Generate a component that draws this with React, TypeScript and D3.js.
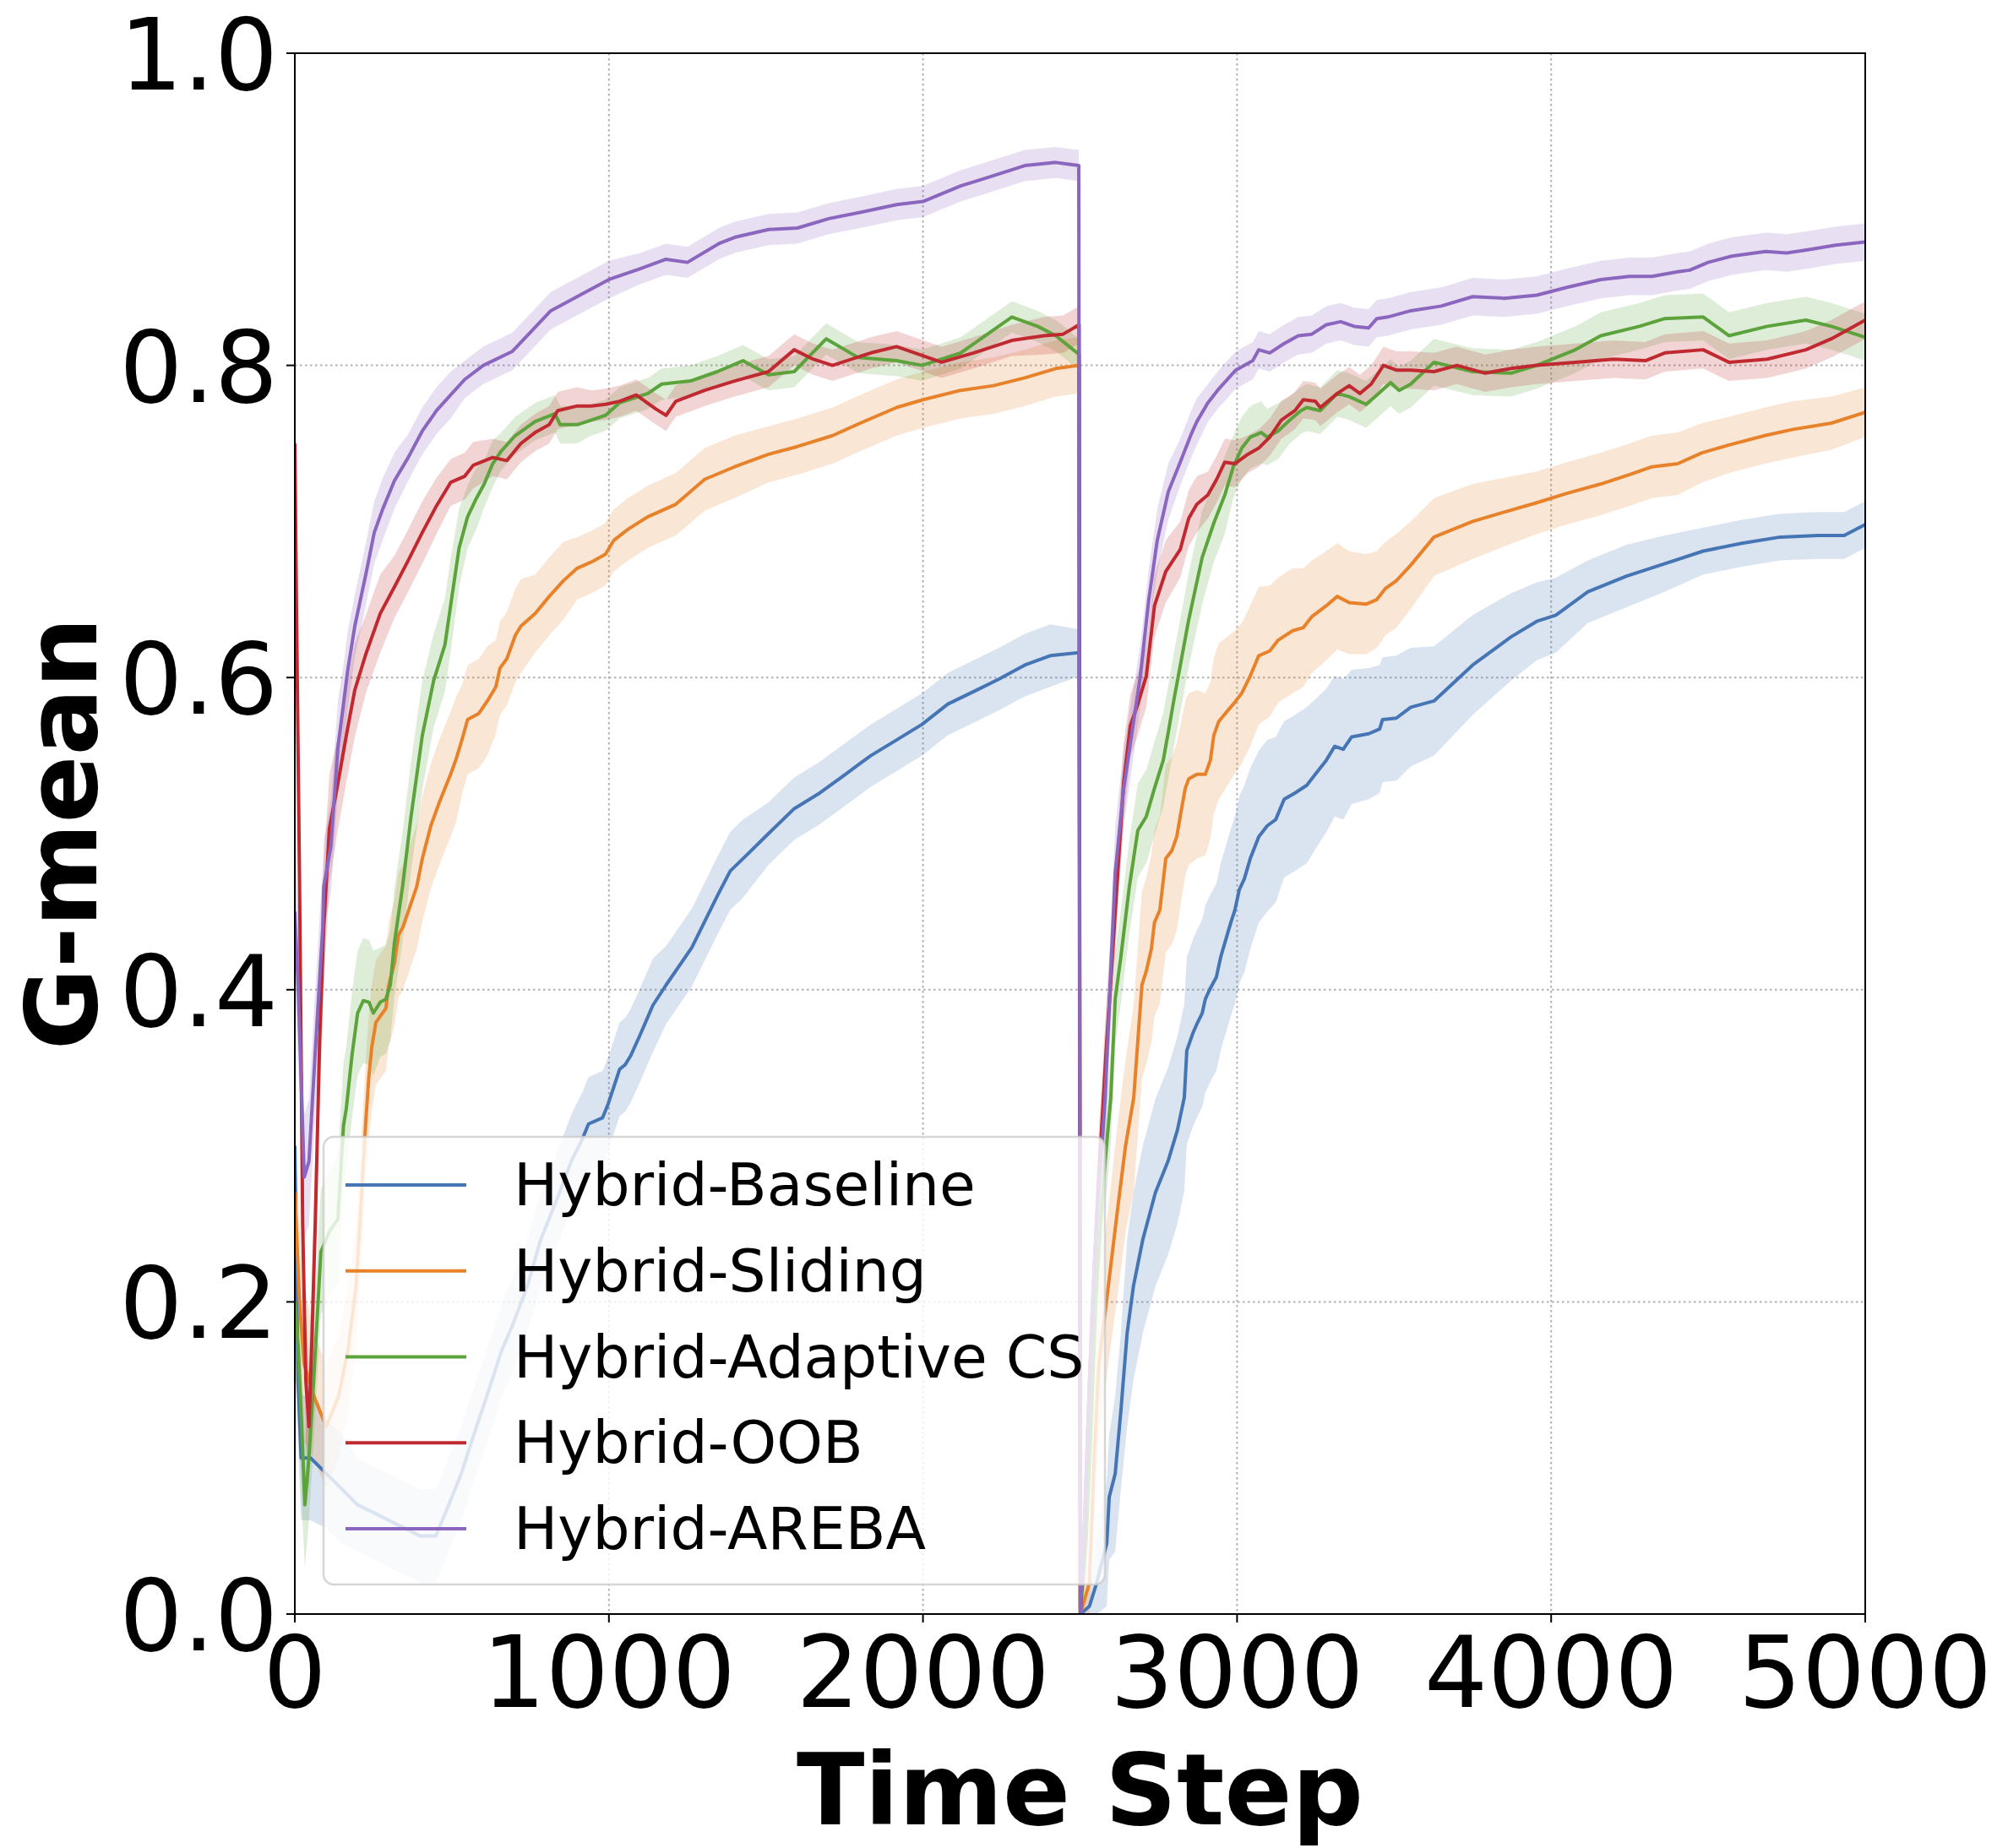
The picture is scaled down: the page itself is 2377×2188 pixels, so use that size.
import React from "react";
import * as d3 from "d3";

type Pt = [number, number, number];

const seriesNames = ["Hybrid-Baseline", "Hybrid-Sliding", "Hybrid-Adaptive CS", "Hybrid-OOB", "Hybrid-AREBA"];
const seriesColors = ["#4575b4", "#e8822a", "#5ca33c", "#c0292f", "#8b66be"];
const xTicks = [0, 1000, 2000, 3000, 4000, 5000];
const yTicks = [0, 0.2, 0.4, 0.6, 0.8, 1.0];
const yTickLabels = ["0.0", "0.2", "0.4", "0.6", "0.8", "1.0"];

// [time step, mean, half band]
const baseline: Pt[] = [
  [0,0.3,0.04],[10,0.15,0.04],[20,0.1,0.04],[50,0.1,0.04],[100,0.09,0.035],[150,0.08,0.035],[200,0.07,0.03],[250,0.065,0.03],[300,0.06,0.03],[350,0.055,0.03],[400,0.05,0.03],[449,0.05,0.03],[490,0.07,0.03],[530,0.09,0.03],[570,0.115,0.03],[612,0.14,0.03],[657,0.168,0.03],[693,0.185,0.03],[740,0.21,0.03],[783,0.24,0.03],[837,0.267,0.03],[880,0.29,0.03],[917,0.305,0.03],[935,0.314,0.03],[980,0.318,0.03],[998,0.327,0.03],[1016,0.338,0.03],[1034,0.349,0.03],[1052,0.352,0.03],[1070,0.358,0.03],[1097,0.37,0.03],[1140,0.39,0.03],[1182,0.403,0.025],[1264,0.427,0.025],[1345,0.46,0.025],[1386,0.476,0.025],[1427,0.484,0.025],[1508,0.5,0.02],[1590,0.516,0.02],[1671,0.526,0.02],[1753,0.538,0.02],[1834,0.55,0.02],[1916,0.56,0.02],[1997,0.57,0.02],[2079,0.583,0.02],[2161,0.591,0.02],[2242,0.599,0.02],[2324,0.608,0.02],[2405,0.614,0.02],[2497,0.616,0.015],
  [2501,0,0],[2530,0.005,0.01],[2553,0.02,0.03],[2585,0.045,0.04],[2593,0.075,0.04],[2612,0.09,0.05],[2630,0.13,0.05],[2650,0.18,0.06],[2670,0.21,0.06],[2700,0.24,0.06],[2740,0.27,0.06],[2780,0.29,0.06],[2810,0.31,0.06],[2832,0.331,0.06],[2840,0.361,0.06],[2859,0.372,0.06],[2872,0.378,0.06],[2889,0.385,0.06],[2899,0.394,0.06],[2915,0.401,0.06],[2934,0.408,0.06],[2948,0.421,0.06],[2961,0.43,0.06],[2980,0.443,0.06],[2993,0.451,0.06],[3007,0.464,0.06],[3023,0.471,0.06],[3042,0.484,0.058],[3069,0.498,0.055],[3096,0.505,0.055],[3123,0.509,0.053],[3150,0.522,0.05],[3184,0.526,0.05],[3222,0.531,0.05],[3249,0.538,0.048],[3284,0.547,0.046],[3311,0.556,0.045],[3338,0.554,0.045],[3365,0.562,0.043],[3419,0.564,0.042],[3454,0.567,0.041],[3463,0.573,0.04],[3507,0.574,0.04],[3553,0.581,0.038],[3627,0.585,0.035],[3750,0.608,0.032],[3872,0.626,0.028],[3954,0.636,0.025],[4015,0.64,0.024],[4117,0.655,0.02],[4240,0.665,0.02],[4362,0.673,0.018],[4484,0.681,0.015],[4607,0.686,0.015],[4729,0.69,0.015],[4851,0.691,0.015],[4933,0.691,0.015],[5000,0.698,0.015],
];

const sliding: Pt[] = [
  [0,0.27,0.04],[15,0.2,0.05],[30,0.16,0.05],[60,0.14,0.04],[100,0.12,0.04],[140,0.14,0.04],[170,0.17,0.04],[195,0.21,0.04],[210,0.26,0.04],[226,0.316,0.04],[236,0.345,0.04],[245,0.363,0.04],[258,0.379,0.04],[272,0.383,0.04],[290,0.388,0.04],[299,0.403,0.04],[317,0.417,0.04],[330,0.435,0.04],[344,0.44,0.04],[388,0.466,0.04],[406,0.484,0.04],[433,0.505,0.04],[460,0.52,0.04],[496,0.538,0.04],[514,0.548,0.04],[532,0.56,0.035],[550,0.573,0.035],[586,0.577,0.035],[613,0.585,0.035],[640,0.594,0.03],[653,0.606,0.03],[675,0.612,0.03],[702,0.627,0.03],[720,0.633,0.03],[765,0.641,0.025],[810,0.652,0.025],[855,0.662,0.025],[899,0.67,0.02],[944,0.674,0.02],[989,0.679,0.02],[1016,0.688,0.02],[1061,0.695,0.02],[1124,0.703,0.02],[1213,0.711,0.02],[1305,0.727,0.02],[1400,0.735,0.02],[1508,0.743,0.018],[1600,0.748,0.018],[1712,0.755,0.018],[1800,0.763,0.018],[1916,0.773,0.018],[2000,0.778,0.018],[2120,0.784,0.018],[2224,0.787,0.018],[2324,0.792,0.018],[2423,0.798,0.018],[2497,0.8,0.018],
  [2501,0,0],[2530,0.02,0.02],[2545,0.1,0.04],[2560,0.16,0.05],[2590,0.21,0.05],[2620,0.26,0.055],[2645,0.3,0.055],[2671,0.331,0.06],[2684,0.367,0.06],[2697,0.403,0.06],[2711,0.412,0.06],[2727,0.426,0.06],[2737,0.443,0.06],[2754,0.451,0.06],[2765,0.47,0.06],[2773,0.484,0.06],[2792,0.489,0.06],[2808,0.498,0.06],[2819,0.511,0.058],[2835,0.529,0.056],[2846,0.535,0.055],[2872,0.538,0.054],[2899,0.538,0.052],[2915,0.547,0.05],[2926,0.563,0.05],[2942,0.572,0.05],[2967,0.578,0.048],[2988,0.583,0.046],[3015,0.59,0.045],[3042,0.601,0.045],[3069,0.614,0.044],[3104,0.617,0.042],[3131,0.624,0.04],[3177,0.63,0.04],[3211,0.632,0.038],[3238,0.639,0.036],[3284,0.646,0.035],[3319,0.652,0.034],[3357,0.648,0.033],[3411,0.647,0.032],[3445,0.65,0.031],[3472,0.657,0.03],[3507,0.662,0.03],[3553,0.672,0.028],[3627,0.69,0.025],[3750,0.7,0.024],[3850,0.706,0.022],[3954,0.712,0.02],[4050,0.718,0.02],[4158,0.724,0.02],[4250,0.73,0.02],[4321,0.735,0.02],[4403,0.737,0.02],[4480,0.744,0.019],[4566,0.749,0.018],[4680,0.755,0.018],[4770,0.759,0.018],[4892,0.763,0.017],[5000,0.77,0.016],
];

const adaptiveCS: Pt[] = [
  [0,0.2,0.04],[11,0.17,0.05],[22,0.12,0.05],[32,0.07,0.04],[45,0.1,0.04],[60,0.15,0.04],[83,0.232,0.04],[110,0.245,0.04],[137,0.253,0.04],[155,0.313,0.04],[164,0.324,0.04],[182,0.358,0.04],[200,0.385,0.04],[218,0.393,0.04],[236,0.392,0.04],[250,0.385,0.04],[272,0.392,0.035],[290,0.394,0.035],[304,0.403,0.035],[317,0.43,0.035],[343,0.466,0.035],[370,0.511,0.035],[406,0.563,0.035],[442,0.598,0.03],[478,0.621,0.03],[496,0.646,0.03],[523,0.683,0.025],[550,0.703,0.02],[576,0.714,0.02],[603,0.724,0.015],[630,0.737,0.015],[657,0.745,0.012],[702,0.755,0.012],[765,0.764,0.012],[828,0.769,0.012],[845,0.762,0.012],[899,0.762,0.012],[944,0.765,0.01],[989,0.768,0.01],[1034,0.776,0.01],[1124,0.782,0.01],[1168,0.788,0.01],[1260,0.79,0.01],[1345,0.796,0.01],[1427,0.803,0.01],[1508,0.794,0.01],[1590,0.796,0.01],[1692,0.817,0.01],[1794,0.805,0.01],[1916,0.803,0.01],[1997,0.8,0.01],[2120,0.808,0.01],[2283,0.831,0.01],[2365,0.825,0.01],[2423,0.819,0.01],[2497,0.807,0.01],
  [2501,0,0],[2520,0.05,0.03],[2535,0.12,0.03],[2550,0.2,0.03],[2565,0.25,0.03],[2580,0.29,0.03],[2598,0.331,0.03],[2612,0.394,0.03],[2630,0.421,0.03],[2657,0.466,0.03],[2684,0.502,0.03],[2711,0.511,0.03],[2737,0.529,0.03],[2765,0.547,0.03],[2781,0.565,0.03],[2800,0.587,0.03],[2813,0.601,0.03],[2846,0.637,0.03],[2889,0.677,0.03],[2926,0.699,0.025],[2961,0.717,0.025],[2988,0.735,0.02],[3015,0.747,0.02],[3042,0.754,0.02],[3077,0.757,0.02],[3096,0.754,0.018],[3131,0.758,0.018],[3168,0.765,0.015],[3203,0.771,0.015],[3222,0.773,0.015],[3265,0.771,0.015],[3319,0.782,0.015],[3357,0.78,0.015],[3411,0.775,0.015],[3445,0.781,0.015],[3489,0.789,0.015],[3516,0.784,0.015],[3553,0.788,0.015],[3627,0.802,0.015],[3750,0.796,0.015],[3872,0.795,0.015],[3954,0.8,0.015],[4077,0.81,0.015],[4158,0.819,0.015],[4281,0.825,0.015],[4362,0.83,0.015],[4484,0.831,0.015],[4566,0.819,0.015],[4688,0.825,0.015],[4811,0.829,0.015],[4892,0.825,0.015],[5000,0.818,0.015],
];

const oob: Pt[] = [
  [0,0.75,0.03],[5,0.65,0.05],[15,0.47,0.05],[25,0.25,0.05],[35,0.15,0.04],[45,0.12,0.04],[55,0.18,0.04],[65,0.25,0.04],[79,0.367,0.04],[92,0.44,0.04],[110,0.503,0.035],[137,0.532,0.03],[164,0.563,0.03],[191,0.592,0.03],[226,0.615,0.025],[272,0.641,0.025],[317,0.658,0.02],[361,0.675,0.02],[406,0.693,0.02],[451,0.71,0.018],[496,0.725,0.015],[541,0.729,0.015],[568,0.736,0.015],[630,0.741,0.012],[675,0.739,0.012],[720,0.75,0.012],[765,0.757,0.012],[810,0.762,0.012],[837,0.771,0.012],[899,0.774,0.012],[944,0.774,0.01],[989,0.775,0.01],[1034,0.777,0.01],[1087,0.781,0.01],[1150,0.772,0.01],[1182,0.768,0.01],[1213,0.777,0.01],[1305,0.784,0.01],[1400,0.79,0.01],[1508,0.796,0.01],[1590,0.81,0.01],[1650,0.804,0.01],[1712,0.8,0.01],[1834,0.808,0.01],[1916,0.812,0.01],[2059,0.802,0.01],[2161,0.808,0.01],[2283,0.816,0.01],[2385,0.819,0.012],[2446,0.82,0.012],[2497,0.826,0.012],
  [2501,0,0],[2515,0.06,0.03],[2530,0.15,0.03],[2545,0.22,0.03],[2560,0.28,0.03],[2585,0.367,0.03],[2603,0.421,0.03],[2620,0.475,0.025],[2639,0.533,0.025],[2660,0.569,0.02],[2684,0.583,0.02],[2711,0.601,0.02],[2737,0.646,0.02],[2773,0.668,0.02],[2819,0.682,0.018],[2846,0.702,0.018],[2872,0.711,0.018],[2907,0.717,0.015],[2935,0.727,0.015],[2961,0.738,0.015],[2993,0.737,0.015],[3034,0.743,0.012],[3069,0.747,0.012],[3104,0.754,0.012],[3141,0.765,0.012],[3184,0.771,0.012],[3211,0.778,0.012],[3249,0.777,0.012],[3265,0.773,0.012],[3319,0.782,0.012],[3357,0.787,0.012],[3391,0.782,0.012],[3427,0.788,0.012],[3466,0.8,0.012],[3507,0.797,0.012],[3553,0.797,0.012],[3627,0.796,0.012],[3700,0.8,0.012],[3790,0.795,0.012],[3872,0.798,0.012],[3954,0.8,0.012],[4077,0.802,0.012],[4199,0.804,0.012],[4300,0.803,0.012],[4362,0.808,0.012],[4484,0.81,0.012],[4566,0.802,0.012],[4688,0.804,0.012],[4811,0.81,0.012],[4892,0.817,0.012],[5000,0.829,0.012],
];

const areba: Pt[] = [
  [0,0.45,0.05],[11,0.4,0.05],[30,0.28,0.04],[45,0.29,0.04],[65,0.36,0.04],[89,0.44,0.04],[92,0.466,0.03],[115,0.492,0.03],[137,0.555,0.03],[155,0.583,0.025],[168,0.604,0.025],[191,0.633,0.02],[209,0.65,0.02],[226,0.666,0.02],[253,0.693,0.02],[280,0.708,0.02],[317,0.726,0.018],[361,0.741,0.015],[406,0.758,0.015],[451,0.771,0.015],[496,0.781,0.015],[541,0.791,0.012],[600,0.8,0.012],[693,0.809,0.012],[815,0.835,0.012],[1000,0.855,0.012],[1100,0.862,0.01],[1182,0.868,0.01],[1250,0.866,0.01],[1350,0.878,0.01],[1400,0.882,0.01],[1508,0.887,0.01],[1600,0.888,0.01],[1700,0.894,0.01],[1800,0.898,0.01],[1916,0.903,0.01],[2000,0.905,0.01],[2120,0.915,0.01],[2200,0.92,0.01],[2324,0.928,0.01],[2423,0.93,0.01],[2496,0.928,0.01],
  [2501,0,0],[2512,0.05,0.02],[2525,0.12,0.03],[2540,0.2,0.03],[2555,0.26,0.03],[2570,0.3,0.03],[2580,0.331,0.03],[2612,0.475,0.03],[2639,0.529,0.025],[2692,0.601,0.02],[2719,0.65,0.02],[2746,0.688,0.02],[2781,0.719,0.018],[2819,0.738,0.015],[2854,0.756,0.015],[2872,0.764,0.015],[2907,0.776,0.012],[2942,0.785,0.012],[2996,0.797,0.012],[3050,0.803,0.012],[3069,0.81,0.012],[3104,0.808,0.012],[3150,0.814,0.012],[3195,0.819,0.012],[3238,0.82,0.012],[3284,0.826,0.012],[3330,0.828,0.012],[3373,0.825,0.012],[3419,0.824,0.012],[3445,0.83,0.012],[3480,0.831,0.012],[3553,0.835,0.012],[3650,0.838,0.012],[3750,0.844,0.012],[3850,0.843,0.012],[3954,0.845,0.012],[4050,0.85,0.012],[4158,0.855,0.012],[4250,0.857,0.012],[4321,0.857,0.012],[4403,0.86,0.012],[4441,0.861,0.012],[4500,0.866,0.012],[4575,0.87,0.012],[4683,0.873,0.012],[4750,0.872,0.012],[4817,0.874,0.012],[4906,0.877,0.012],[5000,0.879,0.012],
];

const allSeries = [baseline, sliding, adaptiveCS, oob, areba];

const W = 2377;
const H = 2188;
const L = 349, R = 2208, T = 63, B = 1911;
const FONT = "'DejaVu Sans', sans-serif";

export default function App() {
  const x = d3.scaleLinear().domain([0, 5000]).range([L, R]);
  const y = d3.scaleLinear().domain([0, 1]).range([B, T]);
  const line = d3.line<Pt>().x((d) => x(d[0])).y((d) => y(d[1]));
  const area = d3
    .area<Pt>()
    .x((d) => x(d[0]))
    .y0((d) => y(Math.max(0, d[1] - d[2])))
    .y1((d) => y(d[1] + d[2]));

  const legendX = 383, legendY = 1346, legendW = 925, legendH = 530;
  const rowY = (i: number) => 1403 + i * 101.75;

  return (
    <div style={{ position: "absolute", left: 0, top: 0 }}>
      <svg width={W} height={H} style={{ display: "block", background: "#fff" }} fontFamily={FONT}>
        <defs>
          <clipPath id="plotclip">
            <rect x={L} y={T} width={R - L} height={B - T} />
          </clipPath>
        </defs>
        <rect x={0} y={0} width={W} height={H} fill="#fff" />
        {/* grid */}
        <g stroke="#b0b0b0" strokeWidth={2} strokeDasharray="2.5,3.5">
          {xTicks.map((t) => (
            <line key={"gx" + t} x1={x(t)} x2={x(t)} y1={T} y2={B} />
          ))}
          {yTicks.map((t) => (
            <line key={"gy" + t} x1={L} x2={R} y1={y(t)} y2={y(t)} />
          ))}
        </g>
        <g clipPath="url(#plotclip)">
          {allSeries.map((s, i) => (
            <path key={"a" + i} d={area(s) || ""} fill={seriesColors[i]} fillOpacity={0.2} stroke="none" />
          ))}
          {allSeries.map((s, i) => (
            <path
              key={"l" + i}
              d={line(s) || ""}
              fill="none"
              stroke={seriesColors[i]}
              strokeWidth={4}
              strokeLinejoin="round"
            />
          ))}
        </g>
        {/* spines */}
        <rect x={L} y={T} width={R - L} height={B - T} fill="none" stroke="#000" strokeWidth={2} />
        {/* ticks */}
        <g stroke="#000" strokeWidth={2}>
          {xTicks.map((t) => (
            <line key={"tx" + t} x1={x(t)} x2={x(t)} y1={B} y2={B + 10} />
          ))}
          {yTicks.map((t) => (
            <line key={"ty" + t} x1={L - 10} x2={L} y1={y(t)} y2={y(t)} />
          ))}
        </g>
        <g fontSize={118} fill="#000">
          {xTicks.map((t) => (
            <text key={"lx" + t} x={x(t)} y={2021} textAnchor="middle">
              {String(t)}
            </text>
          ))}
          {yTicks.map((t, i) => (
            <text key={"ly" + t} x={329} y={y(t) + 43} textAnchor="end">
              {yTickLabels[i]}
            </text>
          ))}
        </g>
        <text x={(L + R) / 2} y={2160} textAnchor="middle" fontSize={118} fontWeight="bold">
          Time Step
        </text>
        <text
          transform={`translate(114, ${(T + B) / 2}) rotate(-90)`}
          textAnchor="middle"
          fontSize={118}
          fontWeight="bold"
        >
          G-mean
        </text>
        {/* legend */}
        <rect
          x={legendX}
          y={legendY}
          width={legendW}
          height={legendH}
          rx={12}
          ry={12}
          fill="#fff"
          fillOpacity={0.8}
          stroke="#cccccc"
          strokeOpacity={0.8}
          strokeWidth={2.5}
        />
        {seriesNames.map((n, i) => (
          <g key={"lg" + i}>
            <line x1={409} x2={552} y1={rowY(i)} y2={rowY(i)} stroke={seriesColors[i]} strokeWidth={4} />
            <text x={608} y={rowY(i) + 24} fontSize={69.5}>
              {n}
            </text>
          </g>
        ))}
      </svg>
    </div>
  );
}
